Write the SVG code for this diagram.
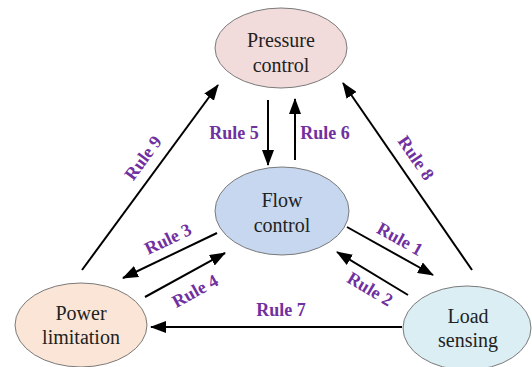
<svg xmlns="http://www.w3.org/2000/svg" width="532" height="367" viewBox="0 0 532 367">
<style>
.node ellipse{stroke:#7a7a7a;stroke-width:1}
.nt{font-family:"Liberation Serif","Times New Roman",serif;font-size:20px;fill:#222;text-anchor:middle}
.conn line{stroke:#000;stroke-width:2;fill:none}
.lbl{font-family:"Liberation Serif","Times New Roman",serif;font-size:18px;font-weight:bold;fill:#7030A0;text-anchor:middle}
</style>
<defs>
<marker id="ah" viewBox="0 0 16 12" markerWidth="16" markerHeight="12" refX="15" refY="6" orient="auto" markerUnits="userSpaceOnUse">
<path d="M0,0 L16,6 L0,12 Z" fill="#000"/>
</marker>
</defs>
<rect width="532" height="367" fill="#fff"/>
<g id="pressure" class="node">
<ellipse cx="281" cy="48" rx="66" ry="40" fill="#F2DCDB"/>
<text class="nt" x="281" y="47">Pressure</text>
<text class="nt" x="281" y="72">control</text>
</g>
<g id="flow" class="node">
<ellipse cx="282" cy="211" rx="67" ry="44" fill="#C6D7EF"/>
<text class="nt" x="282" y="207">Flow</text>
<text class="nt" x="282" y="232">control</text>
</g>
<g id="power" class="node">
<ellipse cx="81" cy="325" rx="66" ry="42" fill="#FBE5D6"/>
<text class="nt" x="81" y="320">Power</text>
<text class="nt" x="81" y="344">limitation</text>
</g>
<g id="load" class="node">
<ellipse cx="467" cy="328" rx="64" ry="42" fill="#DAEEF3"/>
<text class="nt" x="468" y="323">Load</text>
<text class="nt" x="468" y="347">sensing</text>
</g>
<g id="connectors" class="conn">
<line x1="82" y1="270" x2="218" y2="85" marker-end="url(#ah)"/>
<line x1="472" y1="270" x2="343" y2="83" marker-end="url(#ah)"/>
<line x1="268" y1="100" x2="268" y2="165" marker-end="url(#ah)"/>
<line x1="295" y1="160" x2="295" y2="99" marker-end="url(#ah)"/>
<line x1="217" y1="233" x2="123" y2="278" marker-end="url(#ah)"/>
<line x1="145" y1="297" x2="225" y2="253" marker-end="url(#ah)"/>
<line x1="347" y1="227" x2="433" y2="275" marker-end="url(#ah)"/>
<line x1="408" y1="295" x2="337" y2="252" marker-end="url(#ah)"/>
<line x1="402" y1="327" x2="151" y2="327" marker-end="url(#ah)"/>
</g>
<g id="labels">
<text class="lbl" x="234" y="139">Rule 5</text>
<text class="lbl" x="325" y="139">Rule 6</text>
<text class="lbl" x="281" y="316">Rule 7</text>
<text class="lbl" transform="translate(143,158) rotate(-53.7)" y="6">Rule 9</text>
<text class="lbl" transform="translate(416,158) rotate(55.4)" y="6">Rule 8</text>
<text class="lbl" transform="translate(168,239) rotate(-25.6)" y="6">Rule 3</text>
<text class="lbl" transform="translate(195,291) rotate(-28.8)" y="6">Rule 4</text>
<text class="lbl" transform="translate(400,239) rotate(29)" y="6">Rule 1</text>
<text class="lbl" transform="translate(370,289) rotate(31)" y="6">Rule 2</text>
</g>
</svg>
